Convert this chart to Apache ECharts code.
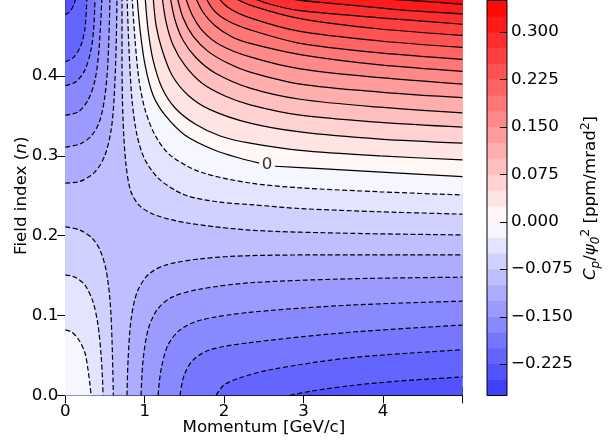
<!DOCTYPE html>
<html>
<head>
<meta charset="utf-8">
<script src="https://cdn.jsdelivr.net/npm/echarts@6/dist/echarts.min.js"></script>
<style>
html, body { margin: 0; padding: 0; background: #fff; }
#chart { width: 612px; height: 442px; }
</style>
</head>
<body>
<div id="chart"></div>
<script>
// Filled-contour levels of C_p / psi0^2 [ppm/mrad^2]
const LEVELS = [-0.275, -0.25, -0.225, -0.2, -0.175, -0.15, -0.125, -0.1, -0.075, -0.05, -0.025,
  0, 0.025, 0.05, 0.075, 0.1, 0.125, 0.15, 0.175, 0.2, 0.225, 0.25, 0.275, 0.3, 0.325, 0.35];
const CBAR_TICKS = [-0.225, -0.15, -0.075, 0, 0.075, 0.15, 0.225, 0.3];
const X_TICKS = [0, 1, 2, 3, 4];
const Y_TICKS = [0, 0.1, 0.2, 0.3, 0.4];

// Contour paths, [momentum GeV/c, field index n].
// High-value lobe (upper right): from the top edge to the right edge.
const B_P325 = [[3.460,0.5],[3.964,0.497],[4.467,0.494],[5,0.490]];
const B_P300 = [[2.641,0.5],[2.956,0.495],[3.586,0.489],[4.215,0.483],[5,0.478]];
const B_P275 = [[2.301,0.5],[2.578,0.490],[2.956,0.482],[3.964,0.473],[5,0.465]];
const B_P250 = [[2.087,0.5],[2.326,0.489],[2.956,0.472],[3.964,0.459],[5,0.451]];
const B_P225 = [[1.911,0.5],[2.049,0.486],[2.326,0.473],[2.956,0.456],[3.964,0.444],[5,0.436]];
const B_P200 = [[1.759,0.5],[1.873,0.482],[2.049,0.469],[2.326,0.458],[2.956,0.441],[3.964,0.429],[5,0.421]];
const B_P175 = [[1.634,0.5],[1.734,0.480],[1.885,0.463],[2.100,0.449],[2.326,0.441],[2.956,0.427],[3.964,0.414],[5,0.406]];
const B_P150 = [[1.508,0.5],[1.596,0.477],[1.734,0.456],[1.949,0.439],[2.326,0.424],[2.956,0.409],[3.964,0.398],[5,0.390]];
const B_P125 = [[1.407,0.5],[1.482,0.473],[1.608,0.450],[1.797,0.431],[2.049,0.416],[2.326,0.405],[2.956,0.390],[3.964,0.380],[5,0.373]];
const B_P100 = [[1.319,0.5],[1.382,0.470],[1.482,0.445],[1.646,0.423],[1.885,0.404],[2.326,0.385],[2.956,0.371],[3.964,0.361],[5,0.354]];
const B_P075 = [[1.218,0.5],[1.268,0.468],[1.356,0.439],[1.508,0.413],[1.722,0.391],[2.011,0.375],[2.326,0.364],[2.956,0.351],[3.964,0.342],[5,0.336]];
const B_P050 = [[1.105,0.5],[1.142,0.464],[1.218,0.433],[1.344,0.401],[1.545,0.376],[1.822,0.358],[2.326,0.341],[2.956,0.330],[3.964,0.321],[5,0.316]];
const B_P025 = [[1.004,0.5],[1.042,0.458],[1.105,0.420],[1.218,0.385],[1.382,0.360],[1.634,0.340],[1.949,0.325],[2.326,0.316],[2.956,0.307],[3.964,0.300],[5,0.295]];
const B_ZERO = [[0.903,0.5],[0.941,0.458],[1.004,0.414],[1.105,0.376],[1.256,0.351],[1.508,0.326],[1.885,0.307],[2.200,0.297],[2.440,0.291],[2.641,0.287],[3.208,0.284],[4.090,0.279],[5,0.274]];
const B_M025 = [[0.840,0.5],[0.878,0.445],[0.928,0.395],[1.004,0.358],[1.130,0.326],[1.319,0.301],[1.696,0.280],[2.326,0.266],[2.956,0.260],[3.964,0.255],[5,0.251]];
const B_M050 = [[0.777,0.5],[0.802,0.433],[0.840,0.370],[0.903,0.326],[1.004,0.295],[1.193,0.270],[1.508,0.251],[1.949,0.242],[2.326,0.239],[2.956,0.234],[3.964,0.230],[5,0.227]];
const B_M075 = [[0.714,0.5],[0.714,0.420],[0.727,0.345],[0.764,0.289],[0.827,0.255],[0.941,0.237],[1.130,0.226],[1.533,0.216],[2.326,0.207],[3.586,0.203],[5,0.201]];

// Low-value lobe (upper left): from the left edge to the top edge.
const C_M100 = [[0,0.266],[0.185,0.268],[0.374,0.280],[0.500,0.301],[0.576,0.332],[0.613,0.370],[0.639,0.433],[0.651,0.5]];
const C_M125 = [[0,0.311],[0.185,0.315],[0.336,0.326],[0.437,0.345],[0.500,0.376],[0.538,0.420],[0.563,0.5]];
const C_M150 = [[0,0.351],[0.160,0.355],[0.286,0.370],[0.374,0.395],[0.424,0.433],[0.462,0.5]];
const C_M175 = [[0,0.388],[0.135,0.393],[0.248,0.408],[0.324,0.433],[0.361,0.464],[0.374,0.5]];
const C_M200 = [[0,0.418],[0.110,0.424],[0.198,0.439],[0.248,0.460],[0.273,0.5]];
const C_M225 = [[0,0.477],[0.059,0.481],[0.110,0.490],[0.135,0.5]];

// Low-value lobe (lower right): from the bottom edge to the right edge.
const D_M100 = [[0.777,0],[0.790,0.044],[0.827,0.094],[0.903,0.129],[1.042,0.151],[1.256,0.163],[1.696,0.171],[2.326,0.175],[3.586,0.176],[5,0.176]];
const D_M125 = [[0.953,0],[0.979,0.044],[1.042,0.082],[1.155,0.107],[1.344,0.123],[1.696,0.133],[2.326,0.141],[3.586,0.146],[5,0.148]];
const D_M150 = [[1.168,0],[1.205,0.032],[1.293,0.063],[1.445,0.082],[1.696,0.094],[2.326,0.104],[3.586,0.113],[5,0.118]];
const D_M175 = [[1.445,0],[1.495,0.025],[1.608,0.044],[1.822,0.057],[2.326,0.066],[3.586,0.079],[5,0.088]];
const D_M200 = [[1.898,0],[1.999,0.013],[2.200,0.022],[2.578,0.032],[3.586,0.047],[5,0.057]];
const D_M225 = [[2.830,0],[3.082,0.005],[3.586,0.012],[4.215,0.018],[5,0.023]];

// High-value lobe (lower left): from the left edge to the bottom edge.
const A_M025 = [[0,0.082],[0.084,0.079],[0.173,0.069],[0.248,0.053],[0.286,0.032],[0.311,0.013],[0.324,0]];
const A_M050 = [[0,0.151],[0.122,0.148],[0.248,0.138],[0.349,0.117],[0.412,0.088],[0.450,0.051],[0.469,0.019],[0.475,0]];
const A_M075 = [[0,0.211],[0.185,0.207],[0.336,0.197],[0.437,0.182],[0.513,0.157],[0.563,0.119],[0.588,0.069],[0.605,0]];

// Inline label of the zero contour
const ZERO_LABEL = [2.54, 0.289];
const ZERO_GAP_AFTER = 8;

const P_MAX = 5, N_MAX = 0.5;
const VMAX = 0.35;

// bwr colour map
function bwr(t) {
  t = Math.max(0, Math.min(1, t));
  if (t < 0.5) { const v = Math.round(510 * t); return 'rgb(' + v + ',' + v + ',255)'; }
  const v = Math.round(510 * (1 - t));
  return 'rgb(255,' + v + ',' + v + ')';
}
function bandColor(i) {
  const mid = (LEVELS[i] + LEVELS[i + 1]) / 2;
  return bwr((mid + VMAX) / (2 * VMAX));
}
function levelIndex(v) { return LEVELS.findIndex(l => Math.abs(l - v) < 1e-9); }

// Valley pairs (below the saddle) and lobe arcs (above it), ordered by level
const VALLEYS = [
  [-0.225, C_M225, D_M225], [-0.2, C_M200, D_M200], [-0.175, C_M175, D_M175],
  [-0.15, C_M150, D_M150], [-0.125, C_M125, D_M125], [-0.1, C_M100, D_M100]
];
const HILLS = [
  [-0.075, A_M075, B_M075], [-0.05, A_M050, B_M050], [-0.025, A_M025, B_M025],
  [0, null, B_ZERO], [0.025, null, B_P025], [0.05, null, B_P050], [0.075, null, B_P075],
  [0.1, null, B_P100], [0.125, null, B_P125], [0.15, null, B_P150], [0.175, null, B_P175],
  [0.2, null, B_P200], [0.225, null, B_P225], [0.25, null, B_P250], [0.275, null, B_P275],
  [0.3, null, B_P300], [0.325, null, B_P325]
];

// Filled regions painted from low to high level
const FILLS = [];
FILLS.push({ color: bandColor(levelIndex(-0.25)), pts: [[0, 0], [P_MAX, 0], [P_MAX, N_MAX], [0, N_MAX]] });
VALLEYS.forEach(([lv, c, d]) => {
  FILLS.push({ color: bandColor(levelIndex(lv)),
    pts: [[0, 0]].concat(d, [[P_MAX, N_MAX]], c.slice().reverse()) });
});
HILLS.forEach(([lv, a, b]) => {
  const col = bandColor(levelIndex(lv));
  if (a) FILLS.push({ color: col, pts: [[0, 0]].concat(a) });
  FILLS.push({ color: col, pts: [[P_MAX, N_MAX]].concat(b) });
});

// Contour lines
const LINES = [];
VALLEYS.forEach(([lv, c, d]) => { LINES.push([lv, c]); LINES.push([lv, d]); });
HILLS.forEach(([lv, a, b]) => {
  if (a) LINES.push([lv, a]);
  if (lv === 0) {
    LINES.push([lv, b.slice(0, ZERO_GAP_AFTER + 1)]);
    LINES.push([lv, b.slice(ZERO_GAP_AFTER + 1)]);
  } else {
    LINES.push([lv, b]);
  }
});

const FONT = 'DejaVu Sans';
const FS = 16.7;
const TXT = { fontFamily: FONT, fontSize: FS, color: '#000' };

const series = [];
series.push({
  type: 'custom', xAxisIndex: 0, yAxisIndex: 0, silent: true, z: 1, clip: true,
  data: FILLS.map(() => [0, 0]),
  renderItem: (params, api) => {
    const f = FILLS[params.dataIndex];
    return { type: 'polygon', shape: { points: f.pts.map(p => api.coord(p)) },
      style: { fill: f.color, stroke: f.color, lineWidth: 0.5 } };
  }
});
LINES.forEach(([lv, pts]) => {
  series.push({
    type: 'line', xAxisIndex: 0, yAxisIndex: 0, data: pts, showSymbol: false, symbol: 'none',
    smooth: 0.3, silent: true, z: 3,
    lineStyle: { color: '#000', width: 1.2, type: lv < 0 ? [5, 2.5] : 'solid' }
  });
});
series.push({
  type: 'scatter', xAxisIndex: 0, yAxisIndex: 0, data: [ZERO_LABEL], symbolSize: 0, silent: true, z: 4,
  label: { show: true, position: 'inside', formatter: '0', ...TXT }
});
// Colour bar bands
series.push({
  type: 'custom', xAxisIndex: 2, yAxisIndex: 2, silent: true, z: 1,
  data: LEVELS.slice(0, -1).map((l, i) => [0, l]),
  renderItem: (params, api) => {
    const i = params.dataIndex;
    const p0 = api.coord([0, LEVELS[i]]);
    const p1 = api.coord([1, LEVELS[i + 1]]);
    return { type: 'rect', shape: { x: p0[0], y: p1[1] - 0.3, width: p1[0] - p0[0], height: p0[1] - p1[1] + 0.6 },
      style: { fill: bandColor(i) } };
  }
});
// Colour bar outline and inward ticks on its right edge
series.push({
  type: 'custom', xAxisIndex: 2, yAxisIndex: 2, silent: true, z: 5,
  data: [[0, LEVELS[0]]],
  renderItem: (params, api) => {
    const p0 = api.coord([0, LEVELS[0]]);
    const p1 = api.coord([1, LEVELS[LEVELS.length - 1]]);
    const children = [{ type: 'rect', shape: { x: p0[0], y: p1[1], width: p1[0] - p0[0], height: p0[1] - p1[1] },
      style: { fill: 'none', stroke: '#000', lineWidth: 1 } }];
    CBAR_TICKS.forEach(t => {
      const q = api.coord([1, t]);
      const y = Math.round(q[1]) + 0.5;
      children.push({ type: 'line', shape: { x1: q[0] - 7, y1: y, x2: q[0], y2: y },
        style: { stroke: '#000', lineWidth: 1 } });
    });
    return { type: 'group', children: children };
  }
});

const spine = { show: true, lineStyle: { color: '#000', width: 1 } };
const option = {
  animation: false,
  backgroundColor: '#fff',
  grid: [
    { left: 65.3, top: -3.7, width: 397.2, height: 399, containLabel: false, outerBoundsMode: 'none' },
    { left: 487, top: 0.5, width: 20, height: 395, containLabel: false, outerBoundsMode: 'none' }
  ],
  xAxis: [
    { type: 'value', gridIndex: 0, min: 0, max: P_MAX, interval: 1, position: 'bottom',
      axisLine: spine, splitLine: { show: false },
      axisTick: { inside: true, length: 8, lineStyle: { color: '#000', width: 1 } },
      axisLabel: { ...TXT, margin: 8, formatter: v => X_TICKS.includes(v) ? String(v) : '' },
      name: 'Momentum [GeV/c]', nameLocation: 'middle', nameGap: 24, nameMoveOverlap: false,
      nameTextStyle: { ...TXT, verticalAlign: 'top' } },
    { type: 'value', gridIndex: 0, min: 0, max: P_MAX, interval: 1, position: 'top',
      axisLine: spine, splitLine: { show: false },
      axisTick: { inside: true, length: 8, lineStyle: { color: '#000', width: 1 } },
      axisLabel: { show: false } },
    { type: 'value', gridIndex: 1, min: 0, max: 1, show: false }
  ],
  yAxis: [
    { type: 'value', gridIndex: 0, min: 0, max: N_MAX, interval: 0.1, position: 'left',
      axisLine: spine, splitLine: { show: false },
      axisTick: { inside: true, length: 8, lineStyle: { color: '#000', width: 1 } },
      axisLabel: { ...TXT, margin: 7, formatter: v => Y_TICKS.some(t => Math.abs(t - v) < 1e-9) ? v.toFixed(1) : '' },
      name: '{r|Field index (}{i|n}{r|)}', nameLocation: 'middle', nameRotate: 90, nameGap: 35,
      nameMoveOverlap: false,
      nameTextStyle: { ...TXT, verticalAlign: 'bottom', rich: { r: { ...TXT }, i: { ...TXT, fontStyle: 'italic' } } } },
    { type: 'value', gridIndex: 0, min: 0, max: N_MAX, interval: 0.1, position: 'right',
      axisLine: spine, splitLine: { show: false },
      axisTick: { inside: true, length: 8, lineStyle: { color: '#000', width: 1 } },
      axisLabel: { show: false } },
    { type: 'value', gridIndex: 1, min: LEVELS[0], max: LEVELS[LEVELS.length - 1], position: 'right',
      axisLine: { show: false }, splitLine: { show: false },
      axisTick: { show: false },
      axisLabel: { ...TXT, margin: 4, customValues: CBAR_TICKS,
        formatter: v => (v < -1e-9 ? '\u2212' : '') + Math.abs(v).toFixed(3) },
      name: '{i|C}{s|p}{r|/}{i|\u03c8}{s|0}{u|2}{r| [ppm/mrad}{u|2}{r|]}',
      nameLocation: 'middle', nameRotate: 90, nameGap: 73, nameMoveOverlap: false,
      nameTextStyle: { ...TXT, verticalAlign: 'top', rich: {
        r: { ...TXT, lineHeight: 22, verticalAlign: 'middle' },
        i: { ...TXT, fontStyle: 'italic', lineHeight: 22, verticalAlign: 'middle' },
        s: { ...TXT, fontSize: 12, fontStyle: 'italic', lineHeight: 22, verticalAlign: 'bottom' },
        u: { ...TXT, fontSize: 12, lineHeight: 12, verticalAlign: 'top' }
      } } }
  ],
  series: series
};
const chart = echarts.init(document.getElementById('chart'));
chart.setOption(option);
</script>
</body>
</html>
